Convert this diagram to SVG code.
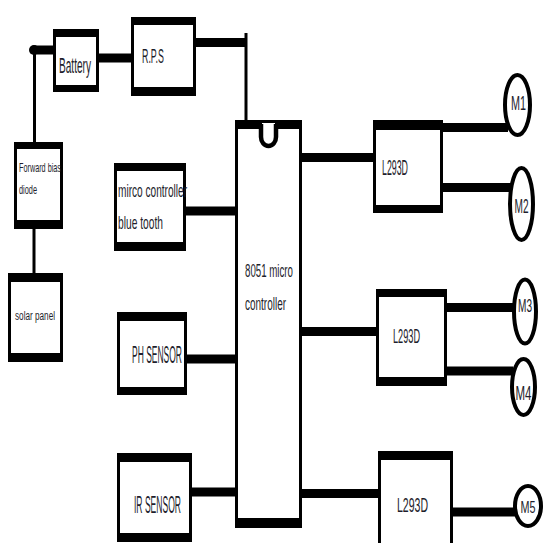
<svg xmlns="http://www.w3.org/2000/svg" width="543" height="543" viewBox="0 0 543 543">
<style>
.box{fill:#fff;stroke:#000;stroke-width:3}
.band{fill:#000}
.w{stroke:#000;stroke-width:9;fill:none}
.thin{stroke:#000;stroke-width:3;fill:none}
.dot{fill:#000}
.mot{fill:#fff;stroke:#000;stroke-width:4}
text{font-family:"Liberation Sans","DejaVu Sans",sans-serif;fill:#1e1e2c}
</style>
<rect width="543" height="543" fill="#fff"/>
<g id="connectors">
<line class="w" x1="33" y1="50" x2="55" y2="50"/>
<circle class="dot" cx="34" cy="50" r="5"/>
<line class="thin" x1="34.5" y1="50" x2="34.5" y2="143"/>
<line class="w" x1="98" y1="58" x2="135" y2="58"/>
<circle class="dot" cx="135" cy="58" r="4.5"/>
<line class="w" x1="195" y1="42.5" x2="247" y2="42.5"/>
<line class="thin" x1="246" y1="33" x2="246" y2="122"/>
<line class="thin" x1="34" y1="219" x2="34" y2="274" stroke-linecap="round"/>
<line class="w" x1="185" y1="211" x2="240" y2="211" stroke-width="8"/>
<circle class="dot" cx="239" cy="211" r="4.5"/>
<line class="w" x1="186" y1="359" x2="238" y2="359" stroke-width="8"/>
<circle class="dot" cx="238" cy="359" r="4.5"/>
<line class="w" x1="191" y1="492" x2="238" y2="492" stroke-width="8"/>
<circle class="dot" cx="238" cy="492" r="4.5"/>
<line class="w" x1="301" y1="157.5" x2="374" y2="157.5"/>
<line class="w" x1="442" y1="127.5" x2="508" y2="127.5"/>
<line class="w" x1="442" y1="187.5" x2="511" y2="187.5"/>
<line class="w" x1="301" y1="331.5" x2="379" y2="331.5"/>
<circle class="dot" cx="379" cy="331.5" r="4.5"/>
<line class="w" x1="444" y1="307.5" x2="515" y2="307.5"/>
<circle class="dot" cx="444" cy="307.5" r="4.5"/>
<line class="w" x1="446" y1="371" x2="513" y2="371"/>
<line class="w" x1="301" y1="493.5" x2="379" y2="493.5"/>
<line class="w" x1="452" y1="512" x2="516" y2="512"/>
</g>
<g id="battery">
<rect class="box" x="54.5" y="30.5" width="43" height="60"/>
<rect class="band" x="53" y="29" width="46" height="8"/>
<rect class="band" x="53" y="85" width="46" height="7"/>
<text x="59" y="73" font-size="22" textLength="32" lengthAdjust="spacingAndGlyphs">Battery</text>
</g>
<g id="rps">
<rect class="box" x="132.5" y="18.5" width="62" height="76"/>
<rect class="band" x="131" y="17" width="65" height="8"/>
<rect class="band" x="131" y="87" width="65" height="9"/>
<text x="142" y="63" font-size="20" textLength="22" lengthAdjust="spacingAndGlyphs">R.P.S</text>
</g>
<g id="diode">
<rect class="box" x="15.5" y="143.5" width="46" height="84"/>
<rect class="band" x="14" y="142" width="49" height="7"/>
<rect class="band" x="14" y="220" width="49" height="9"/>
<text x="19" y="172" font-size="13" textLength="42" lengthAdjust="spacingAndGlyphs">Forward bias</text>
<text x="19" y="194" font-size="13" textLength="18" lengthAdjust="spacingAndGlyphs">diode</text>
</g>
<g id="solar">
<rect class="box" x="9.5" y="274.5" width="52" height="86" stroke-width="4"/>
<rect class="band" x="8" y="273" width="55" height="9"/>
<rect class="band" x="8" y="353" width="55" height="9"/>
<text x="15" y="320" font-size="12" textLength="40" lengthAdjust="spacingAndGlyphs">solar panel</text>
</g>
<g id="bluetooth">
<rect class="box" x="115.5" y="164.5" width="69" height="85"/>
<rect class="band" x="114" y="163" width="72" height="8"/>
<rect class="band" x="114" y="242" width="72" height="9"/>
<text x="118" y="197" font-size="19" textLength="69" lengthAdjust="spacingAndGlyphs">mirco controller</text>
<text x="118" y="229" font-size="19" textLength="45" lengthAdjust="spacingAndGlyphs">blue tooth</text>
</g>
<g id="ph">
<rect class="box" x="118.5" y="313.5" width="67" height="80"/>
<rect class="band" x="117" y="312" width="70" height="9"/>
<rect class="band" x="117" y="387" width="70" height="8"/>
<text x="132" y="363" font-size="23" textLength="50" lengthAdjust="spacingAndGlyphs">PH SENSOR</text>
</g>
<g id="ir">
<rect class="box" x="118.5" y="454.5" width="72" height="86"/>
<rect class="band" x="117" y="453" width="75" height="9"/>
<rect class="band" x="117" y="533" width="75" height="9"/>
<text x="134" y="513" font-size="23" textLength="47" lengthAdjust="spacingAndGlyphs">IR SENSOR</text>
</g>
<g id="mcu">
<rect x="236.5" y="121.5" width="64" height="405" fill="#fff" stroke="#000" stroke-width="3"/>
<rect class="band" x="235" y="120" width="27" height="9"/>
<rect class="band" x="275" y="120" width="27" height="9"/>
<rect fill="#fff" x="263" y="129" width="11" height="6"/>
<path d="M261,124 V137 A7.5,9 0 0 0 276,137 V124" fill="none" stroke="#000" stroke-width="4.5"/>
<rect class="band" x="235" y="518" width="67" height="10"/>
<text x="245" y="277" font-size="18" textLength="48" lengthAdjust="spacingAndGlyphs">8051 micro</text>
<text x="245" y="310" font-size="18" textLength="41" lengthAdjust="spacingAndGlyphs">controller</text>
</g>
<g id="l293d-1">
<rect class="box" x="374.5" y="121.5" width="67" height="90"/>
<rect class="band" x="373" y="120" width="70" height="10"/>
<rect class="band" x="373" y="205" width="70" height="8"/>
<text x="382" y="175" font-size="22" textLength="26" lengthAdjust="spacingAndGlyphs">L293D</text>
</g>
<g id="l293d-2">
<rect class="box" x="377.5" y="290.5" width="68" height="94"/>
<rect class="band" x="376" y="289" width="71" height="8"/>
<rect class="band" x="376" y="377" width="71" height="9"/>
<text x="393" y="343" font-size="20" textLength="27" lengthAdjust="spacingAndGlyphs">L293D</text>
</g>
<g id="l293d-3">
<rect class="box" x="379.5" y="452.5" width="72" height="100"/>
<rect class="band" x="378" y="451" width="75" height="9"/>
<text x="397" y="512" font-size="20" textLength="31" lengthAdjust="spacingAndGlyphs">L293D</text>
</g>
<g id="m1">
<ellipse class="mot" cx="517.5" cy="105" rx="12.5" ry="30"/>
<text x="511" y="110" font-size="20" textLength="15" lengthAdjust="spacingAndGlyphs">M1</text>
</g>
<g id="m2">
<ellipse class="mot" cx="521.5" cy="204" rx="11.5" ry="36"/>
<text x="514.5" y="213" font-size="20" textLength="14" lengthAdjust="spacingAndGlyphs">M2</text>
</g>
<g id="m3">
<ellipse class="mot" cx="525" cy="311.5" rx="11" ry="32"/>
<text x="518" y="312" font-size="18" textLength="14" lengthAdjust="spacingAndGlyphs">M3</text>
</g>
<g id="m4">
<ellipse class="mot" cx="523.5" cy="387" rx="11.5" ry="28"/>
<text x="515.5" y="400" font-size="20" textLength="16" lengthAdjust="spacingAndGlyphs">M4</text>
</g>
<g id="m5">
<ellipse class="mot" cx="528" cy="506" rx="13" ry="20"/>
<text x="520.5" y="513" font-size="17" textLength="15" lengthAdjust="spacingAndGlyphs">M5</text>
</g>
</svg>
